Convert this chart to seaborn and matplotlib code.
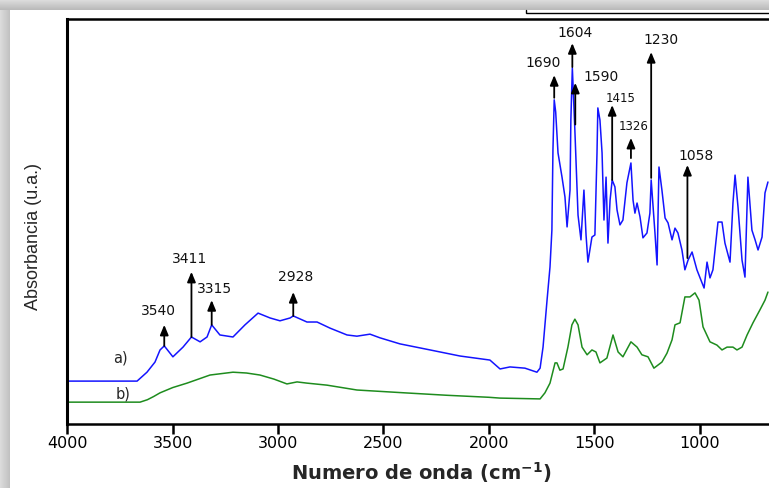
import numpy as np
import pandas as pd
import matplotlib
matplotlib.use("Agg")
import matplotlib.pyplot as plt
import seaborn as sns

# FTIR spectra: wavenumber (cm-1) and absorbance (arbitrary units)
blue_wn = [4000, 3669, 3622, 3584, 3560, 3540, 3499, 3451, 3411, 3370, 3337, 3315,
           3276, 3214, 3157, 3095, 3038, 2991, 2943, 2928, 2863, 2815, 2754, 2673,
           2626, 2564, 2517, 2422, 2279, 2137, 1995, 1947, 1900, 1829, 1772, 1757,
           1743, 1724, 1710, 1701, 1696, 1690, 1683, 1672, 1653, 1639, 1629, 1615,
           1611, 1604, 1592, 1577, 1563, 1549, 1539, 1530, 1511, 1497, 1487, 1483,
           1473, 1463, 1454, 1444, 1435, 1425, 1415, 1402, 1392, 1378, 1364, 1345,
           1326, 1316, 1307, 1297, 1283, 1269, 1250, 1236, 1230, 1212, 1202, 1193,
           1179, 1164, 1150, 1131, 1117, 1103, 1084, 1070, 1055, 1036, 1013, 998,
           979, 965, 951, 937, 913, 894, 880, 856, 842, 832, 818, 799, 785, 771,
           752, 737, 723, 704, 690, 676]
blue_abs = [0.106, 0.106, 0.128, 0.153, 0.183, 0.193, 0.166, 0.190, 0.215, 0.203, 0.215, 0.245,
            0.220, 0.215, 0.245, 0.274, 0.262, 0.255, 0.262, 0.267, 0.252, 0.252, 0.237, 0.220,
            0.217, 0.222, 0.213, 0.198, 0.183, 0.168, 0.158, 0.136, 0.141, 0.138, 0.128, 0.138,
            0.190, 0.306, 0.388, 0.479, 0.677, 0.801, 0.771, 0.670, 0.610, 0.561, 0.487, 0.578,
            0.751, 0.880, 0.726, 0.516, 0.455, 0.578, 0.467, 0.400, 0.462, 0.467, 0.670, 0.781,
            0.751, 0.670, 0.504, 0.610, 0.447, 0.553, 0.603, 0.586, 0.529, 0.492, 0.504, 0.596,
            0.645, 0.553, 0.521, 0.546, 0.512, 0.460, 0.472, 0.521, 0.603, 0.472, 0.393, 0.635,
            0.578, 0.509, 0.497, 0.455, 0.484, 0.472, 0.430, 0.381, 0.405, 0.425, 0.381, 0.361,
            0.336, 0.400, 0.361, 0.381, 0.499, 0.499, 0.447, 0.400, 0.546, 0.615, 0.536, 0.405,
            0.363, 0.610, 0.479, 0.455, 0.430, 0.462, 0.571, 0.598]

green_wn = [4000, 3655, 3620, 3590, 3560, 3500, 3432, 3323, 3214, 3150, 3086, 3020,
            2958, 2910, 2863, 2768, 2626, 2400, 2200, 2000, 1947, 1757, 1734, 1710,
            1686, 1677, 1663, 1648, 1625, 1606, 1592, 1577, 1558, 1534, 1511, 1492,
            1473, 1440, 1411, 1387, 1364, 1326, 1297, 1274, 1245, 1217, 1179, 1155,
            1131, 1117, 1093, 1070, 1046, 1022, 1003, 984, 951, 918, 894, 870, 842,
            823, 799, 775, 747, 714, 690, 676]
green_abs = [0.054, 0.054, 0.060, 0.068, 0.077, 0.090, 0.101, 0.121, 0.128, 0.126, 0.121, 0.111,
             0.099, 0.104, 0.101, 0.096, 0.084, 0.077, 0.071, 0.066, 0.064, 0.062, 0.077, 0.101,
             0.151, 0.151, 0.133, 0.136, 0.190, 0.245, 0.259, 0.245, 0.190, 0.171, 0.183, 0.178,
             0.151, 0.163, 0.220, 0.178, 0.166, 0.203, 0.190, 0.171, 0.166, 0.138, 0.153, 0.175,
             0.208, 0.245, 0.250, 0.314, 0.314, 0.324, 0.306, 0.240, 0.203, 0.195, 0.183, 0.190,
             0.190, 0.183, 0.190, 0.220, 0.250, 0.282, 0.306, 0.326]

# marked bands: position, arrow base and arrow tip (absorbance)
band_pos = [3540, 3411, 3315, 2928, 1690, 1604, 1590, 1415, 1326, 1230, 1058]
band_base = [0.193, 0.215, 0.245, 0.267, 0.806, 0.882, 0.740, 0.603, 0.657, 0.608, 0.410]
band_tip = [0.245, 0.376, 0.306, 0.326, 0.862, 0.941, 0.843, 0.788, 0.707, 0.919, 0.640]

x_ticks = [4000, 3500, 3000, 2500, 2000, 1500, 1000]

# label placement relative to the arrow tip (pixels) and font size
label_style = {
    3540: (-6, 14, 10), 3411: (-2, 13, 10), 3315: (3, 11, 10), 2928: (2, 15, 10),
    1690: (-11, 12, 10), 1604: (3, 10, 10), 1590: (26, 6, 10), 1415: (8, 7, 8.5),
    1326: (3, 11, 8.5), 1230: (10, 12, 10), 1058: (9, 9, 10),
}

sns.set_theme(style="ticks")
plt.rcParams["font.family"] = ["DejaVu Sans"]

W, H = 769, 488
fig = plt.figure(figsize=(W / 100, H / 100), dpi=100)

# page with a soft shadow along its top and left edges
bg = fig.add_axes([0, 0, 1, 1], zorder=0)
bg.set_xlim(0, W)
bg.set_ylim(H, 0)
bg.axis("off")
page = np.ones((H, W, 3))
edge_top, edge_left = 10, 10
for i in range(edge_top):
    page[i, :, :] = 0.86 - 0.13 * i / (edge_top - 1)
for j in range(edge_left):
    v = 0.86 - 0.10 * j / (edge_left - 1)
    page[edge_top:, j, :] = np.minimum(page[edge_top:, j, :], v)
bg.imshow(page, extent=(0, W, H, 0), aspect="auto", interpolation="bilinear", zorder=1)
# lower corner of the legend frame peeking in at the top
bg.plot([526, 526, W + 5], [10, 13.3, 13.3], color="black", lw=1.0, zorder=2,
        solid_joinstyle="miter")

ax_left, ax_bottom, ax_top = 67.3, 424.0, 19.3
ax = fig.add_axes([ax_left / W, 1 - ax_bottom / H, 1 - ax_left / W, (ax_bottom - ax_top) / H],
                  zorder=2)
ax.patch.set_alpha(0)

df = pd.concat([
    pd.DataFrame({"wn": blue_wn, "abs": blue_abs, "muestra": "a"}),
    pd.DataFrame({"wn": green_wn, "abs": green_abs, "muestra": "b"}),
])
sns.lineplot(data=df, x="wn", y="abs", hue="muestra", estimator=None, sort=False,
             palette={"a": "#1414ff", "b": "#1e8c1e"}, linewidth=1.1, legend=False, ax=ax)

ax.set_xlim(4000, 671)
ax.set_ylim(0, 1)
ax.set_xticks(x_ticks)
ax.set_xticklabels([str(t) for t in x_ticks])
ax.set_yticks([])

for side in ("left", "bottom", "top"):
    ax.spines[side].set_color("black")
ax.spines["left"].set_linewidth(2.2)
ax.spines["bottom"].set_linewidth(1.8)
ax.spines["top"].set_linewidth(1.8)
ax.spines["right"].set_visible(False)
ax.tick_params(axis="x", direction="out", length=7, width=1.8, labelsize=11.5, pad=2,
               colors="black")

ax.set_xlabel("Numero de onda (cm$^{\\mathregular{-1}}$)", fontsize=14, fontweight="bold",
              va="bottom")
ax.xaxis.set_label_coords((421 - ax_left) / (W - ax_left), (ax_bottom - 485) / (ax_bottom - ax_top))
ax.set_ylabel("Absorbancia (u.a.)", fontsize=13, family=["Liberation Sans", "DejaVu Sans"],
              va="center")
ax.yaxis.set_label_coords((34 - ax_left) / (W - ax_left), (ax_bottom - 236.5) / (ax_bottom - ax_top))

for pos, base, tip in zip(band_pos, band_base, band_tip):
    ax.annotate("", xy=(pos, tip), xytext=(pos, base),
                arrowprops=dict(arrowstyle="-|>,head_length=0.6,head_width=0.25",
                                color="black", lw=1.3, mutation_scale=10,
                                shrinkA=0, shrinkB=0))
    dx, dy, fs = label_style[pos]
    ax.annotate(str(pos), xy=(pos, tip), xytext=(dx, dy), textcoords="offset pixels",
                ha="center", va="center", fontsize=fs, color="#111111")

ax.text(3750, 0.163, "a)", fontsize=10.5, ha="center", va="center")
ax.text(3736, 0.074, "b)", fontsize=10.5, ha="center", va="center")

fig.savefig("out.png", dpi=100)
